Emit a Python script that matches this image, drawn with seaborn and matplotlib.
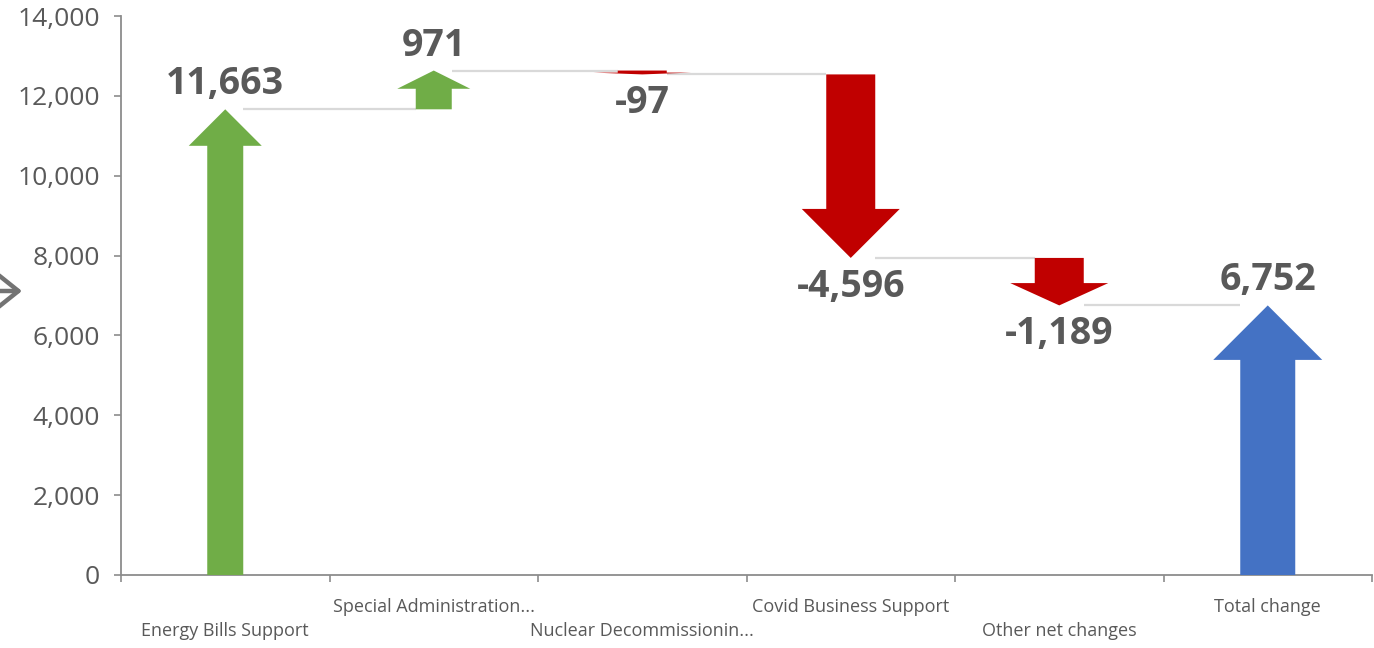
import numpy as np
import matplotlib
matplotlib.use("Agg")
import matplotlib.pyplot as plt
from matplotlib.patches import Polygon, FancyArrowPatch
from matplotlib.ticker import FuncFormatter
import seaborn as sns

# --- data -------------------------------------------------------------
categories = [
    "Energy Bills Support",
    "Special Administration...",
    "Nuclear Decommissionin...",
    "Covid Business Support",
    "Other net changes",
    "Total change",
]
changes = [11663, 971, -97, -4596, -1189]
total = 6752
y_ticks = [0, 2000, 4000, 6000, 8000, 10000, 12000, 14000]

# --- style ------------------------------------------------------------
sns.set_theme(style="white")
plt.rcParams["font.family"] = ["Open Sans", "DejaVu Sans"]

GREEN, RED, BLUE = "#70ad47", "#c00000", "#4472c4"
TEXT = "#595959"
AXIS = "#8c8c8c"
CONNECT = "#d9d9d9"

# shaft / head widths in pixels for each arrow kind
ARROW_PX = {GREEN: (36, 73), RED: (49, 98), BLUE: (55, 109)}

W, H, DPI = 1374, 648, 100
fig = plt.figure(figsize=(W / DPI, H / DPI), dpi=DPI)
ax_left, ax_right, ax_top, ax_bottom = 121, 1372, 16, 575
ax = fig.add_axes([ax_left / W, (H - ax_bottom) / H,
                   (ax_right - ax_left) / W, (ax_bottom - ax_top) / H])

ymax = y_ticks[-1]
ax.set_xlim(-0.5, len(categories) - 0.5)
ax.set_ylim(0, ymax)

px_x = (len(categories)) / (ax_right - ax_left)   # data x per pixel
px_y = ymax / (ax_bottom - ax_top)                # data y per pixel

# start / end of each arrow
starts, ends, colors = [], [], []
level = 0
for v in changes:
    starts.append(level)
    ends.append(level + v)
    colors.append(GREEN if v >= 0 else RED)
    level += v
starts.append(0)
ends.append(total)
colors.append(BLUE)
values = changes + [total]


def arrow_poly(c, y0, y1, shaft_px, head_px):
    d = 1 if y1 >= y0 else -1
    length_px = abs(y1 - y0) / px_y
    head_len_px = min(head_px / 2, 0.47 * length_px)
    neck = y1 - d * head_len_px * px_y
    sw = shaft_px * px_x / 2
    hw = head_px * px_x / 2
    return [(c - sw, y0), (c - sw, neck), (c - hw, neck), (c, y1),
            (c + hw, neck), (c + sw, neck), (c + sw, y0)]


# connector lines between consecutive arrows
for i in range(len(categories) - 1):
    sw_a = ARROW_PX[colors[i]][0] * px_x / 2
    sw_b = ARROW_PX[colors[i + 1]][0] * px_x / 2
    lvl = ends[i]
    ax.plot([i + sw_a, i + 1 - sw_b], [lvl, lvl], color=CONNECT, lw=1.6,
            zorder=1, solid_capstyle="butt")

# arrows
for i, (y0, y1, col) in enumerate(zip(starts, ends, colors)):
    shaft_px, head_px = ARROW_PX[col]
    ax.add_patch(Polygon(arrow_poly(i, y0, y1, shaft_px, head_px),
                         closed=True, facecolor=col, edgecolor="none",
                         zorder=3))

# value labels
for i, (y1, v) in enumerate(zip(ends, values)):
    off = 25 if v >= 0 else -29
    ax.annotate(f"{v:,}", xy=(i, y1), xytext=(0, off),
                textcoords="offset pixels", ha="center", va="center",
                fontsize=27, fontweight="bold", color=TEXT, zorder=4)

# axes styling
sns.despine(ax=ax)
for side in ("left", "bottom"):
    ax.spines[side].set_color(AXIS)
    ax.spines[side].set_linewidth(1.3)

ax.set_yticks(y_ticks)
ax.yaxis.set_major_formatter(FuncFormatter(lambda v, _: f"{int(v):,}"))
ax.tick_params(axis="y", left=True, length=5, width=1.2, color=AXIS,
               labelsize=19, labelcolor=TEXT, pad=10)

ax.set_xticks(np.arange(-0.5, len(categories), 1.0))
ax.set_xticklabels([])
ax.tick_params(axis="x", bottom=True, length=5, width=1.2, color=AXIS)
ax.grid(False)

# staggered category labels
for i, name in enumerate(categories):
    dy = -32 if i % 2 == 1 else -56
    ax.annotate(name, xy=(i, 0), xycoords=("data", "axes fraction"),
                xytext=(0, dy), textcoords="offset pixels",
                ha="center", va="center", fontsize=13, color=TEXT,
                annotation_clip=False)

# pointer at the left edge
ay = 1 - 291 / H
fig.add_artist(FancyArrowPatch(
    (-4 / W, ay), (22 / W, ay), transform=fig.transFigure,
    arrowstyle="->,head_length=0.5,head_width=0.4", mutation_scale=30,
    color="#737373", lw=3.2, shrinkA=0, shrinkB=0))

fig.savefig("out.png", dpi=DPI)
